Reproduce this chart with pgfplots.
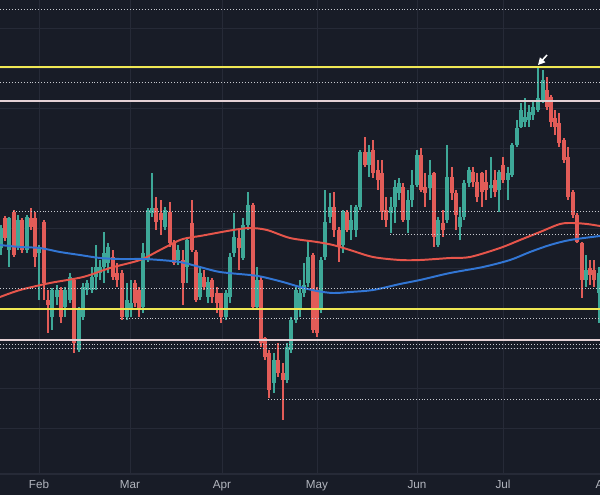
\documentclass[border=0pt]{standalone}
\usepackage{fontspec}
\setmainfont{Liberation Sans}
\usepackage{pgfplots}
\pgfplotsset{compat=1.18}
\usepackage{pgfplotstable}
\usetikzlibrary{arrows.meta}

\definecolor{bgc}{RGB}{24,28,39}
\definecolor{gridc}{RGB}{38,42,55}
\definecolor{lblc}{RGB}{178,181,190}
\definecolor{upc}{RGB}{62,168,152}
\definecolor{dnc}{RGB}{226,92,88}
\definecolor{mared}{RGB}{230,85,75}
\definecolor{mablue}{RGB}{50,118,212}
\definecolor{lvlyellow}{RGB}{240,232,84}
\definecolor{lvlpink}{RGB}{228,208,212}
\definecolor{dotc}{RGB}{200,202,208}

% candles in chart pixels (y grows downward): body top/bottom, wick top/bottom
\pgfplotstableread{
x bt bb wt wb
1 228 248 225 255
9 218 250 217 267
18 220 247 215 250
27 217 250 215 253
39 247 253 245 300
52 290 317 288 330
57 290 297 285 305
65 290 307 287 317
70 277 300 273 303
79 310 350 307 352
83 287 317 283 320
87 283 290 280 295
92 277 290 267 293
96 267 277 245 290
100 267 273 260 280
104 253 267 232 283
108 247 263 243 273
127 300 317 283 320
131 303 310 280 317
143 253 307 243 313
148 210 260 208 262
152 208 213 173 217
165 210 227 207 230
178 250 260 245 265
187 240 267 238 283
200 273 297 268 300
208 282 297 277 303
226 293 317 290 320
230 257 297 253 303
234 237 253 213 257
243 225 258 218 260
248 205 225 192 230
257 280 307 267 308
274 360 383 353 393
287 347 380 343 383
291 320 350 317 353
296 290 320 287 323
300 293 310 280 317
304 285 293 263 297
308 257 283 240 287
321 260 310 257 313
325 222 257 190 260
330 207 217 193 223
343 212 245 210 253
351 220 230 205 240
356 207 230 205 237
360 152 207 150 210
369 152 165 145 177
391 207 213 197 233
395 187 207 180 223
399 183 193 178 200
408 200 220 190 233
412 185 200 170 207
417 155 185 150 187
430 175 188 160 200
438 220 245 217 247
447 177 220 145 223
460 217 227 207 240
464 183 217 180 220
469 170 183 167 187
491 185 188 157 198
499 172 190 170 212
508 173 180 167 200
512 145 175 143 177
517 128 145 120 147
521 110 127 103 128
525 117 122 98 127
529 112 120 105 127
533 107 115 100 120
538 98 110 67 112
543 80 102 70 103
586 270 280 255 287
599 273 293 267 323
}\upcandles

\pgfplotstableread{
x bt bb wt wb
5 218 238 216 241
14 212 255 210 257
22 220 250 218 253
31 218 227 208 230
35 218 257 212 267
44 222 283 220 300
48 300 305 290 333
61 290 317 287 323
74 280 343 278 353
113 257 277 250 280
117 273 280 263 287
122 273 317 270 320
135 283 303 280 307
139 290 310 287 317
156 208 222 197 230
161 213 220 200 235
170 212 243 202 247
174 243 263 240 265
183 260 283 250 305
192 223 250 200 252
196 252 300 250 302
204 277 287 270 290
212 280 297 278 303
217 293 303 287 313
221 293 317 293 323
239 238 248 230 270
253 205 307 203 308
261 280 343 277 347
265 338 357 337 360
269 353 390 350 398
278 360 373 343 377
283 373 380 363 420
313 255 330 253 333
317 290 333 287 337
334 207 230 192 237
339 230 247 227 262
347 212 230 210 232
365 152 165 137 167
373 150 173 140 178
378 170 180 160 190
382 173 212 160 220
386 210 220 197 227
403 187 220 183 222
421 155 190 148 192
425 187 193 173 207
434 173 237 172 247
443 223 230 210 237
452 177 193 167 200
456 193 215 190 230
473 172 182 167 187
477 182 197 173 202
482 173 192 172 207
486 182 190 170 200
495 180 192 170 197
503 165 180 157 183
547 90 107 77 110
551 97 122 95 127
555 118 127 110 135
559 123 143 113 147
564 140 160 138 163
568 157 197 147 200
573 192 215 190 218
577 215 242 213 243
582 243 280 242 298
590 268 275 260 285
594 270 280 260 287
}\dncandles

\pgfplotsset{
  wick/.style={draw=none, mark=none, forget plot,
    error bars/.cd, y dir=plus, y explicit, error mark=none,
    error bar style={draw=#1, line width=0.75pt}},
  body/.style={draw=none, mark=none, forget plot,
    error bars/.cd, y dir=plus, y explicit, error mark=none,
    error bar style={draw=#1, line width=2.4pt}},
  dotlvl/.style={dotc, line width=0.7pt, dash pattern=on 0.7pt off 1.4pt},
}

\begin{document}
\begin{tikzpicture}
\clip (0,0) rectangle (15cm,12.375cm);
\fill[bgc] (0,0) rectangle (15cm,12.375cm);
\begin{axis}[
    at={(0,0.525cm)}, anchor=south west,
    scale only axis, width=15cm, height=11.85cm,
    xmin=0, xmax=600, ymin=0, ymax=474, y dir=reverse,
    axis line style={draw=none},
    xtick={39,130,222,317,417,503},
    xticklabels={Feb,Mar,Apr,May,Jun,Jul},
    ytick=\empty,
    xmajorgrids,
    major grid style={draw=gridc, line width=0.7pt},
    tick style={draw=none},
    xticklabel style={text=lblc, font=\fontsize{8.3}{10}\selectfont, yshift=-1pt},
    clip=true,
]
% horizontal grid
\pgfplotsinvokeforeach{28,68,108,148,188,228,268,308,348,388,428}{
  \draw[gridc, line width=0.7pt] (axis cs:0,#1) -- (axis cs:600,#1);
}

% candles
\addplot[wick=upc] table[x=x, y=wt, y error plus expr=\thisrow{wb}-\thisrow{wt}] {\upcandles};
\addplot[body=upc] table[x=x, y=bt, y error plus expr=\thisrow{bb}-\thisrow{bt}] {\upcandles};
\addplot[wick=dnc] table[x=x, y=wt, y error plus expr=\thisrow{wb}-\thisrow{wt}] {\dncandles};
\addplot[body=dnc] table[x=x, y=bt, y error plus expr=\thisrow{bb}-\thisrow{bt}] {\dncandles};

% moving averages
\addplot[mared, line width=1.4pt, smooth] coordinates {
  (0,297) (20,290) (50,283) (83,277) (110,268) (140,260) (160,250) (180,240)
  (193,237) (200,236) (233,230) (250,228) (267,230) (290,238) (317,242)
  (333,245) (350,250) (373,257) (400,260) (420,260) (450,258) (470,257)
  (500,248) (520,240) (540,232) (560,224) (573,223) (587,224) (600,226)
};
\addplot[mablue, line width=1.4pt, smooth] coordinates {
  (0,245) (20,247) (40,248) (60,252) (80,255) (100,258) (120,259) (143,259)
  (160,260) (180,262) (200,267) (220,272) (250,275) (263,277) (283,282)
  (300,287) (317,291) (333,293) (350,292) (373,290) (400,284) (420,280)
  (450,273) (483,267) (510,260) (530,252) (550,245) (570,240) (600,236)
};

% horizontal levels
\addplot[dotlvl] coordinates {(0,9) (600,9)};
\addplot[lvlyellow, line width=1.8pt] coordinates {(0,67) (600,67)};
\addplot[dotlvl] coordinates {(0,82) (600,82)};
\addplot[lvlpink, line width=0.9pt] coordinates {(0,101) (600,101)};
\addplot[dotlvl] coordinates {(13,211) (600,211)};
\addplot[dotlvl] coordinates {(390,234) (600,234)};
\addplot[dotlvl] coordinates {(0,288) (600,288)};
\addplot[lvlyellow, line width=1.8pt] coordinates {(0,309) (600,309)};
\addplot[dotlvl] coordinates {(120,318) (600,318)};
\addplot[lvlpink, line width=0.9pt] coordinates {(0,340) (600,340)};
\addplot[dotlvl] coordinates {(0,344) (600,344)};
\addplot[dotlvl] coordinates {(0,348) (600,348)};
\addplot[dotlvl] coordinates {(268,399) (600,399)};

% bottom border
\draw[gridc, line width=0.8pt] (axis cs:0,474) -- (axis cs:600,474);
% peak arrow
\draw[white, line width=1.1pt, -{Triangle[length=5pt,width=5pt]}] (axis cs:547,55) -- (axis cs:538,65);
\end{axis}
\node[anchor=north, text=lblc, font=\fontsize{8.3}{10}\selectfont, inner sep=0pt] at (15.15cm,0.37cm) {Aug};
\end{tikzpicture}
\end{document}
